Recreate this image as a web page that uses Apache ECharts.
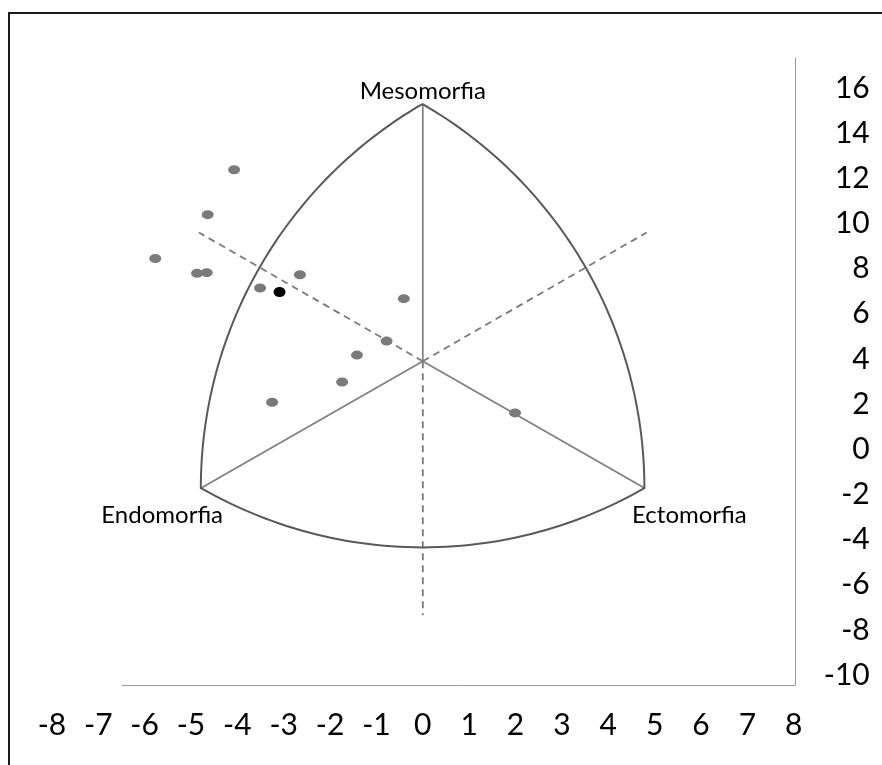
<!DOCTYPE html>
<html>
<head>
<meta charset="utf-8">
<script src="https://cdn.jsdelivr.net/npm/echarts@6/dist/echarts.min.js"></script>
<style>html,body{margin:0;padding:0;background:#fff;}#chart{width:882px;height:765px;}</style>
</head>
<body>
<div id="chart"></div>
<script>
// ---- data ----
const xTicks = [-8,-7,-6,-5,-4,-3,-2,-1,0,1,2,3,4,5,6,7,8];
const yTicks = [-10,-8,-6,-4,-2,0,2,4,6,8,10,12,14,16];
// somatochart vertices (data units)
const vMeso = [0, 15.3];
const vEndo = [-4.78, -1.72];
const vEcto = [4.78, -1.72];
const vCenter = [0, 3.9];
// dashed axis ends (data units)
const dashEnds = [[-4.83, 9.6], [4.83, 9.6], [0, -7.35]];
const vertexNames = ['Mesomorfia', 'Endomorfia', 'Ectomorfia'];
// subjects (gray)
const subjects = [
  [-4.07, 12.38], [-4.64, 10.39], [-5.77, 8.45], [-4.87, 7.79], [-4.66, 7.82],
  [-2.65, 7.73], [-3.51, 7.14], [-0.41, 6.67], [-0.78, 4.79], [-1.42, 4.17],
  [-1.74, 2.98], [-3.25, 2.08], [1.99, 1.61]
];
// mean (black)
const meanPoint = [[-3.09, 6.96]];

function arcPts(C, P1, P2, n) {
  const r = Math.hypot(P1[0]-C[0], P1[1]-C[1]);
  const a1 = Math.atan2(P1[1]-C[1], P1[0]-C[0]);
  const a2 = Math.atan2(P2[1]-C[1], P2[0]-C[0]);
  let d = a2 - a1;
  while (d > Math.PI) d -= 2*Math.PI;
  while (d < -Math.PI) d += 2*Math.PI;
  const pts = [];
  for (let i = 0; i <= n; i++) {
    const a = a1 + d*i/n;
    pts.push([C[0] + r*Math.cos(a), C[1] + r*Math.sin(a)]);
  }
  return pts;
}

function renderChart(params, api) {
  const M = api.coord(vMeso), E = api.coord(vEndo), C = api.coord(vEcto), O = api.coord(vCenter);
  const outline = [].concat(arcPts(C, M, E, 60), arcPts(M, E, C, 60).slice(1), arcPts(E, C, M, 60).slice(1));
  const children = [];
  [M, E, C].forEach(function (P) {
    children.push({type: 'line', shape: {x1: O[0], y1: O[1], x2: P[0], y2: P[1]},
      style: {stroke: '#7f7f7f', lineWidth: 1.7}});
  });
  dashEnds.forEach(function (d) {
    const P = api.coord(d);
    children.push({type: 'line', shape: {x1: O[0], y1: O[1], x2: P[0], y2: P[1]},
      style: {stroke: '#7a7a7a', lineWidth: 1.8, lineDash: [7, 5]}});
  });
  children.push({type: 'polyline', shape: {points: outline},
    style: {stroke: '#595959', lineWidth: 2, fill: 'none'}});
  const labelPos = [[M[0], M[1] - 13], [E[0] - 39, E[1] + 27], [C[0] + 45, C[1] + 27]];
  vertexNames.forEach(function (t, i) {
    children.push({type: 'text', style: {text: t, x: labelPos[i][0], y: labelPos[i][1],
      align: 'center', verticalAlign: 'middle', font: '24px Lato', fill: '#000'}});
  });
  return {type: 'group', children: children};
}

const chart = echarts.init(document.getElementById('chart'), null, {renderer: 'canvas'});
chart.setOption({
  animation: false,
  backgroundColor: '#fff',
  graphic: [{type: 'rect', shape: {x: 9, y: 13, width: 900, height: 800},
    style: {fill: 'none', stroke: '#1a1a1a', lineWidth: 2}, silent: true}],
  grid: [
    {left: 51.9, right: 88.3, top: 88, bottom: 90},
    {left: 122, right: 87, top: 58, bottom: 80}
  ],
  xAxis: [
    {type: 'value', gridIndex: 0, min: xTicks[0], max: xTicks[xTicks.length-1], interval: 1,
      axisLine: {show: false}, axisTick: {show: false}, splitLine: {show: false},
      axisLabel: {fontFamily: 'Lato', fontSize: 30, color: '#000', margin: 35}},
    {type: 'value', gridIndex: 1, min: 0, max: 1,
      axisLine: {show: true, onZero: false, lineStyle: {color: '#999', width: 1}},
      axisTick: {show: false}, splitLine: {show: false}, axisLabel: {show: false}}
  ],
  yAxis: [
    {type: 'value', gridIndex: 0, position: 'right', min: yTicks[0], max: yTicks[yTicks.length-1], interval: 2,
      axisLine: {show: false}, axisTick: {show: false}, splitLine: {show: false},
      axisLabel: {fontFamily: 'Lato', fontSize: 30, color: '#000', align: 'right', margin: 76}},
    {type: 'value', gridIndex: 1, position: 'right', min: 0, max: 1,
      axisLine: {show: true, onZero: false, lineStyle: {color: '#999', width: 1}},
      axisTick: {show: false}, splitLine: {show: false}, axisLabel: {show: false}}
  ],
  series: [
    {type: 'custom', xAxisIndex: 0, yAxisIndex: 0, data: [vCenter], renderItem: renderChart, silent: true, z: 1},
    {type: 'scatter', xAxisIndex: 0, yAxisIndex: 0, data: subjects, symbol: 'circle', symbolSize: [12, 9],
      itemStyle: {color: '#7a7a7a', opacity: 1}, z: 3},
    {type: 'scatter', xAxisIndex: 0, yAxisIndex: 0, data: meanPoint, symbol: 'circle', symbolSize: [12, 10],
      itemStyle: {color: '#000', opacity: 1}, z: 4}
  ]
});
</script>
</body>
</html>
